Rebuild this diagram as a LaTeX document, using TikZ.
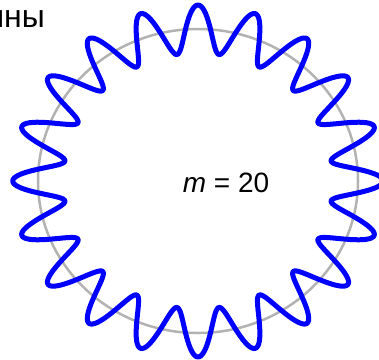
\documentclass[tikz,border=0pt]{standalone}
\usepackage{fontspec}
\setmainfont{Liberation Sans}

\begin{document}
\begin{tikzpicture}[x=1pt,y=-1pt,
    ring/.style={draw=black!30, line width=2.5pt},
    wave/.style={draw=blue, line width=5pt, line join=round},
    lbl/.style={inner sep=0pt, font=\fontsize{28}{30}\selectfont}]
    \useasboundingbox (0,0) rectangle (379,359);
    % unperturbed orbit
    \draw[ring] (198,181) ellipse [x radius=160, y radius=152];
    % standing wave, m = 20
    \draw[wave] plot[domain=0:360, samples=721, variable=\t]
      ({198+160*(1+0.158*cos(20*\t))*cos(\t)}, {181+152*(1+0.158*cos(20*\t))*sin(\t)}) -- cycle;
    \node[lbl, anchor=base] (mlabel) at (226,192) {\textit{m} = 20};
    \node[lbl, font=\fontsize{32}{34}\selectfont, anchor=base east] (title) at (45,27) {ины};
\end{tikzpicture}
\end{document}
